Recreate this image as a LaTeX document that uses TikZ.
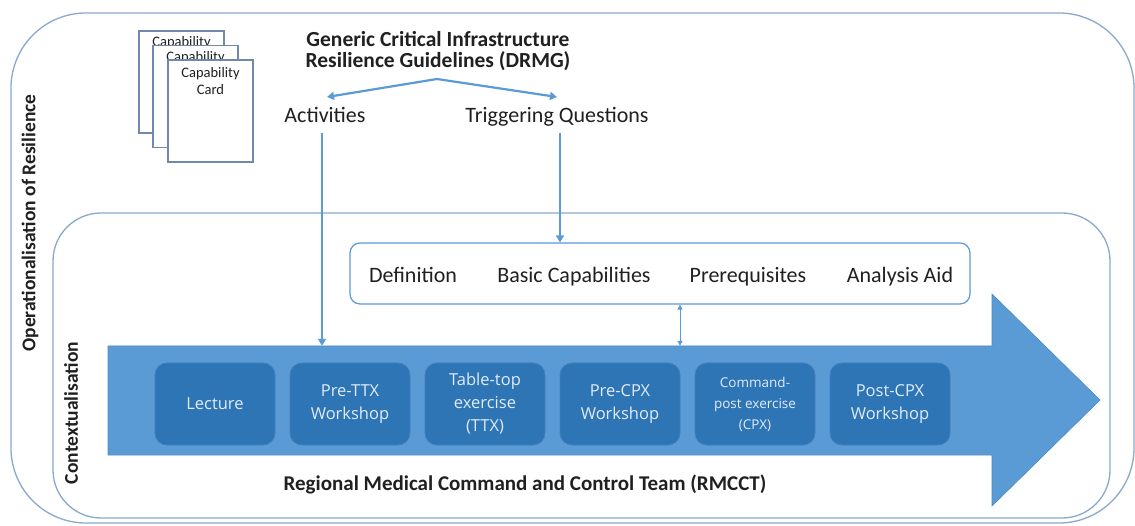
\documentclass[tikz,border=0pt]{standalone}
\usepackage{fontspec}
\setmainfont{Carlito}
\newfontfamily\boxfont{Open Sans}
\usetikzlibrary{arrows.meta}
\definecolor{framec}{HTML}{88A9CC}
\definecolor{linkc}{HTML}{5B9BD5}
\definecolor{arrowfill}{HTML}{5B9BD5}
\definecolor{arrowedge}{HTML}{4F8AC4}
\definecolor{stagefill}{HTML}{2E75B6}
\definecolor{stageedge}{HTML}{3F80BE}
\definecolor{stagetext}{HTML}{E2EBF6}
\definecolor{cardedge}{HTML}{6F88AC}
\definecolor{textc}{HTML}{202020}
\begin{document}
\begin{tikzpicture}[x=1pt,y=-1pt,
  frame/.style={draw=framec,line width=1.3pt},
  link/.style={draw=linkc,line width=2.2pt,-{Triangle[length=7pt,width=8pt]}},
  lbl/.style={text=textc,font=\fontsize{22}{24}\selectfont,inner sep=0pt,anchor=base},
  blbl/.style={text=textc,font=\bfseries\fontsize{21.5}{21}\selectfont,inner sep=0pt,align=center},
  vlbl/.style={text=textc,font=\bfseries\fontsize{19.5}{21}\selectfont,inner sep=0pt,rotate=90},
  stagebox/.style={fill=stagefill,draw=stageedge,line width=0.8pt,rounded corners=12pt,minimum width=120pt,minimum height=82pt,text=stagetext,align=center,inner sep=0pt,font=\boxfont\fontsize{16.5}{23}\selectfont},
  card/.style={fill=white,draw=cardedge,line width=1.8pt,minimum width=85pt,minimum height=102pt,inner sep=0pt},
  cardtxt/.style={font=\fontsize{14.5}{17}\selectfont,text=textc,inner sep=0pt,anchor=base}
]
\useasboundingbox (0,0) rectangle (1135,526);
\fill[white] (0,0) rectangle (1135,526);

% frames
\draw[frame,rounded corners=75pt] (11,13) rectangle (1134,523);
\draw[frame,rounded corners=48pt] (53,213) rectangle (1110,518);

% vertical labels
\node[vlbl] (oper) at (30,223) {Operationalisation of Resilience};
\node[vlbl] (ctx) at (71,413) {Contextualisation};

% capability cards
\node[card] (c1) at (181.5,82) {};
\node[cardtxt] (c1t) at (181.5,47) {Capability};
\node[card] (c2) at (195.5,96.5) {};
\node[cardtxt] (c2t) at (195.5,62) {Capability};
\node[card] (c3) at (210.5,111) {};
\node[cardtxt] (c3t) at (210.5,78) {Capability};
\node[cardtxt] (c3u) at (210.5,95) {Card};

% title and top labels
\node[blbl] (title) at (438,51) {Generic Critical Infrastructure\\Resilience Guidelines (DRMG)};
\node[lbl] (act) at (325,123) {Activities};
\node[lbl] (trig) at (557,123) {Triggering Questions};
\coordinate (apex) at (437,79);
\draw[link] (apex) -- (327,97);
\draw[link] (apex) -- (557,97);

% big process arrow
\fill[arrowfill,draw=arrowedge,line width=0.6pt] (108,346) -- (992,346) -- (992,294) -- (1100,400) -- (992,506) -- (992,455) -- (108,455) -- cycle;
\node[minimum width=884pt,minimum height=109pt,inner sep=0pt] (flow) at (550,400.5) {};

% stages
\node[stagebox] (s1) at (215,404) {Lecture};
\node[stagebox] (s2) at (350,404) {Pre-TTX\\Workshop};
\node[stagebox] (s3) at (485,404) {Table-top\\exercise\\(TTX)};
\node[stagebox] (s4) at (620,404) {Pre-CPX\\Workshop};
\node[stagebox,font=\boxfont\fontsize{13.5}{21}\selectfont] (s5) at (755,404) {Command-\\post exercise\\(CPX)};
\node[stagebox] (s6) at (890,404) {Post-CPX\\Workshop};

% definition box
\node[draw=linkc,line width=1.2pt,rounded corners=10pt,minimum width=620pt,minimum height=61pt,inner sep=0pt] (defbox) at (660,273.5) {};
\node[lbl] (def) at (413,283) {Definition};
\node[lbl] (basic) at (574,283) {Basic Capabilities};
\node[lbl] (prereq) at (748,283) {Prerequisites};
\node[lbl] (aid) at (900,283) {Analysis Aid};

% connectors
\coordinate (a1) at (322,133);
\coordinate (t1) at (560,133);
\coordinate (d1) at (680,0);
\draw[link] (a1) -- (a1 |- flow.north);
\draw[link] (t1) -- (t1 |- defbox.north);
\draw[draw=linkc,line width=1pt,{Triangle[length=5pt,width=5pt]}-{Triangle[length=5pt,width=5pt]}] (d1 |- defbox.south) -- (d1 |- flow.north);

% bottom label
\node[blbl,anchor=base,font=\bfseries\fontsize{21}{21}\selectfont] (team) at (525,490) {Regional Medical Command and Control Team (RMCCT)};
\end{tikzpicture}
\end{document}
